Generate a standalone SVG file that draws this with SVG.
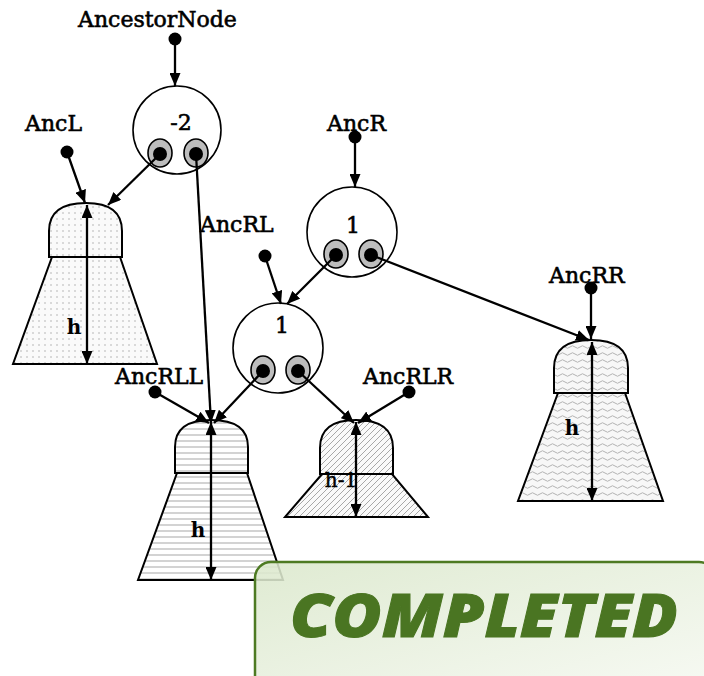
<svg xmlns="http://www.w3.org/2000/svg" width="704" height="676" viewBox="0 0 704 676">
<style>
.lbl{font-family:"DejaVu Serif",serif;font-size:22px;fill:#000;stroke:#000;stroke-width:0.6}
.num{font-family:"DejaVu Serif",serif;font-size:22px;fill:#000;stroke:#000;stroke-width:0.6;text-anchor:middle}
.h{font-family:"DejaVu Serif",serif;font-size:20px;font-weight:bold;fill:#000;text-anchor:middle}
.ln{stroke:#000;stroke-width:2.3;fill:none;marker-end:url(#ah)}
.dim{stroke:#000;stroke-width:2.3;fill:none;marker-start:url(#ahs);marker-end:url(#ah)}
.tree{stroke:#000;stroke-width:2}
.circ{fill:#fff;stroke:#000;stroke-width:1.6}
.eye{fill:#bdbdbd;stroke:#000;stroke-width:1.6}
.dot{fill:#000}
</style>
<defs>
<marker id="ah" viewBox="0 0 13 11" refX="13" refY="5.5" markerWidth="13" markerHeight="11" markerUnits="userSpaceOnUse" orient="auto">
<path d="M0,0 L13,5.5 L0,11 Z" fill="#000"/>
</marker>
<marker id="ahs" viewBox="0 0 13 11" refX="0" refY="5.5" markerWidth="13" markerHeight="11" markerUnits="userSpaceOnUse" orient="auto">
<path d="M13,0 L0,5.5 L13,11 Z" fill="#000"/>
</marker>
<pattern id="pDots" width="6" height="6" patternUnits="userSpaceOnUse">
<rect width="6" height="6" fill="#fafafa"/>
<circle cx="3" cy="3" r="0.8" fill="#b0b0b0"/>
</pattern>
<pattern id="pHoriz" width="6" height="6" patternUnits="userSpaceOnUse">
<rect width="6" height="6" fill="#fff"/>
<line x1="0" y1="3" x2="6" y2="3" stroke="#a8a8a8" stroke-width="1"/>
</pattern>
<pattern id="pDiag" width="6" height="6" patternUnits="userSpaceOnUse">
<rect width="6" height="6" fill="#fafafa"/>
<path d="M0,6 L6,0 M-1,1 L1,-1 M5,7 L7,5" stroke="#a8a8a8" stroke-width="1"/>
</pattern>
<pattern id="pWave" width="10" height="7" patternUnits="userSpaceOnUse">
<rect width="10" height="7" fill="#f7f7f7"/>
<path d="M0,4 Q2.5,1.5 5,4 T10,4" stroke="#aaa" stroke-width="0.9" fill="none"/>
</pattern>
<linearGradient id="gBox" x1="0" y1="0" x2="1" y2="1">
<stop offset="0" stop-color="#dbe8cc"/>
<stop offset="1" stop-color="#f6f9f2"/>
</linearGradient>
</defs>
<rect width="704" height="676" fill="#fff"/>

<g id="treeAncL">
<path class="tree" fill="url(#pDots)" d="M52,257 L120,257 L157,364 L13,364 Z"/>
<path class="tree" fill="url(#pDots)" d="M49,257 V231 Q49,203 86,203 Q122,203 122,231 V257 Z"/>
<line class="dim" x1="87" y1="205" x2="87" y2="364"/>
<text class="h" x="74" y="334">h</text>
</g>

<g id="treeAncRLL">
<path class="tree" fill="url(#pHoriz)" d="M177,473 L247,473 L283,580 L138,580 Z"/>
<path class="tree" fill="url(#pHoriz)" d="M175,473 V447 Q175,420 211,420 Q248,420 248,447 V473 Z"/>
<line class="dim" x1="211" y1="422" x2="211" y2="580"/>
<text class="h" x="198" y="537">h</text>
</g>

<g id="treeAncRLR">
<path class="tree" fill="url(#pDiag)" d="M322,474 L392,474 L428,517 L285,517 Z"/>
<path class="tree" fill="url(#pDiag)" d="M320,474 V448 Q320,420 356,420 Q393,420 393,448 V474 Z"/>
<line class="dim" x1="356" y1="422" x2="356" y2="517"/>
<text class="h" x="341" y="487" style="font-weight:normal;stroke:#000;stroke-width:0.5">h-1</text>
</g>

<g id="treeAncRR">
<path class="tree" fill="url(#pWave)" d="M558,393 L625,393 L663,501 L518,501 Z"/>
<path class="tree" fill="url(#pWave)" d="M554,393 V368 Q554,340 591,340 Q628,340 628,368 V393 Z"/>
<line class="dim" x1="592" y1="342" x2="592" y2="501"/>
<text class="h" x="572" y="435">h</text>
</g>

<g id="nodeAnc">
<circle class="circ" cx="177" cy="130" r="44"/>
<text class="num" x="181" y="130">-2</text>
<ellipse class="eye" cx="160" cy="153" rx="12" ry="14"/>
<circle class="dot" cx="160" cy="154" r="7"/>
<ellipse class="eye" cx="196" cy="153" rx="12" ry="14"/>
<circle class="dot" cx="196" cy="154" r="7"/>
</g>

<g id="nodeAncR">
<circle class="circ" cx="352" cy="232" r="45"/>
<text class="num" x="353" y="233">1</text>
<ellipse class="eye" cx="336" cy="254" rx="12" ry="14"/>
<circle class="dot" cx="336" cy="255" r="7"/>
<ellipse class="eye" cx="371" cy="254" rx="12" ry="14"/>
<circle class="dot" cx="371" cy="255" r="7"/>
</g>

<g id="nodeAncRL">
<circle class="circ" cx="278" cy="348" r="45"/>
<text class="num" x="282" y="333">1</text>
<ellipse class="eye" cx="263" cy="370" rx="12" ry="14"/>
<circle class="dot" cx="263" cy="371" r="7"/>
<ellipse class="eye" cx="298" cy="370" rx="12" ry="14"/>
<circle class="dot" cx="298" cy="371" r="7"/>
</g>

<g id="labels">
<text class="lbl" x="78" y="27">AncestorNode</text>
<text class="lbl" x="25" y="131">AncL</text>
<text class="lbl" x="327" y="131">AncR</text>
<text class="lbl" x="200" y="232">AncRL</text>
<text class="lbl" x="549" y="283">AncRR</text>
<text class="lbl" x="115" y="384">AncRLL</text>
<text class="lbl" x="363" y="384">AncRLR</text>
</g>

<g id="pointers">
<circle class="dot" cx="175" cy="39" r="6.5"/>
<circle class="dot" cx="67" cy="152" r="6.5"/>
<circle class="dot" cx="355" cy="137" r="6.5"/>
<circle class="dot" cx="265" cy="256" r="6.5"/>
<circle class="dot" cx="591" cy="288" r="6.5"/>
<circle class="dot" cx="155" cy="392" r="6.5"/>
<circle class="dot" cx="409" cy="392" r="6.5"/>
</g>

<g id="connectors">
<line class="ln" x1="175" y1="39" x2="175" y2="86"/>
<line class="ln" x1="67" y1="152" x2="85" y2="203"/>
<line class="ln" x1="160" y1="154" x2="108" y2="205"/>
<line class="ln" x1="196" y1="154" x2="211" y2="423"/>
<line class="ln" x1="355" y1="137" x2="355" y2="187"/>
<line class="ln" x1="336" y1="255" x2="287" y2="304"/>
<line class="ln" x1="265" y1="256" x2="281" y2="304"/>
<line class="ln" x1="371" y1="255" x2="589" y2="340"/>
<line class="ln" x1="591" y1="288" x2="591" y2="339"/>
<line class="ln" x1="263" y1="371" x2="214" y2="423"/>
<line class="ln" x1="155" y1="392" x2="209" y2="423"/>
<line class="ln" x1="298" y1="371" x2="354" y2="423"/>
<line class="ln" x1="409" y1="392" x2="358" y2="423"/>
</g>

<g id="stamp">
<rect x="255" y="562" width="460" height="130" rx="16" fill="url(#gBox)" fill-opacity="0.88" stroke="#4d7a22" stroke-width="2.5"/>
<text x="484" y="637" text-anchor="middle" font-family="'Open Sans',sans-serif" font-weight="800" font-style="italic" font-size="60" fill="#4a7522" stroke="#4a7522" stroke-width="1" textLength="388" lengthAdjust="spacingAndGlyphs">COMPLETED</text>
</g>
</svg>
